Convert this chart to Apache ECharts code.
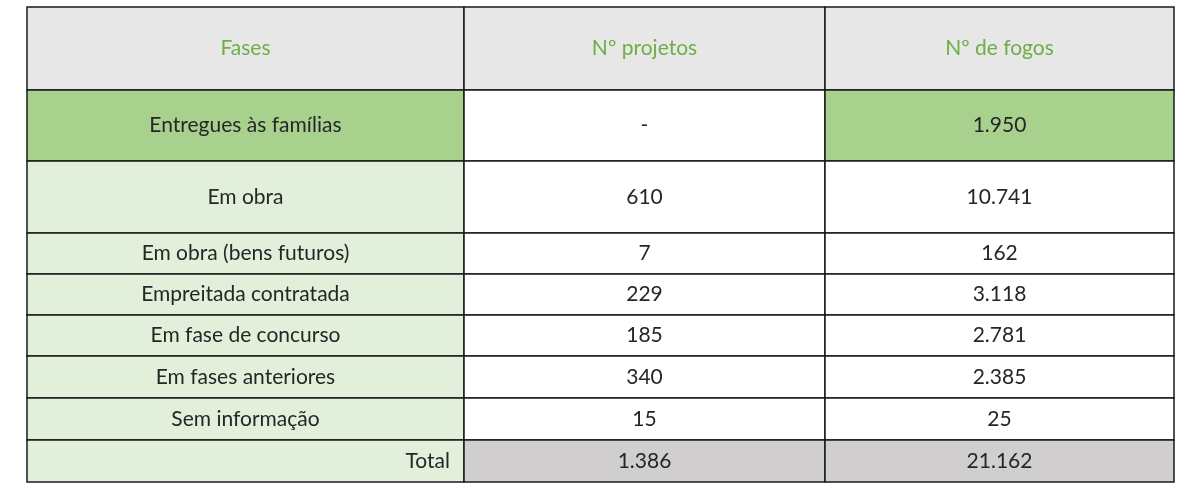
<!DOCTYPE html>
<html>
<head>
    <meta charset="utf-8" />
    <title>Fases</title>
    <script src="https://cdn.jsdelivr.net/npm/echarts@6/dist/echarts.min.js"></script>
    <style>
        html, body { margin: 0; background: #fff; }
        #chart { width: 1200px; height: 495px; }
    </style>
</head>
<body>
    <div id="chart"></div>
    <script>
        // dados da tabela
        var headers = ['Fases', 'Nº projetos', 'Nº de fogos'];
        var fases = ['Entregues às famílias', 'Em obra', 'Em obra (bens futuros)', 'Empreitada contratada',
            'Em fase de concurso', 'Em fases anteriores', 'Sem informação', 'Total'];
        var projetos = ['-', '610', '7', '229', '185', '340', '15', '1.386'];
        var fogos = ['1.950', '10.741', '162', '3.118', '2.781', '2.385', '25', '21.162'];

        // limites das colunas e linhas (unidades dos eixos)
        var colEdges = [0, 437, 798, 1147];
        var rowEdges = [0, 83, 154, 226, 267, 308, 349, 391, 433, 475];

        function cellFill(c, r) {
            if (r === 0) return '#e7e7e7';
            if (r === 1) return c === 1 ? '#ffffff' : '#a9d18e';
            if (r === rowEdges.length - 2 && c > 0) return '#d0cece';
            return c === 0 ? '#e2efda' : '#ffffff';
        }

        var cells = [];
        var rows = [headers];
        for (var i = 0; i < fases.length; i++) rows.push([fases[i], projetos[i], fogos[i]]);
        rows.forEach(function (row, r) {
            row.forEach(function (txt, c) { cells.push([c, r, txt]); });
        });

        var chart = echarts.init(document.getElementById('chart'));
        chart.setOption({
            animation: false,
            grid: { left: 27, right: 26, top: 7, bottom: 13 },
            xAxis: { type: 'value', min: 0, max: 1147, show: false },
            yAxis: { type: 'value', min: 0, max: 475, inverse: true, show: false },
            series: [{
                type: 'custom',
                data: cells,
                renderItem: function (params, api) {
                    var c = api.value(0), r = api.value(1);
                    var txt = cells[params.dataIndex][2];
                    var p0 = api.coord([colEdges[c], rowEdges[r]]);
                    var p1 = api.coord([colEdges[c + 1], rowEdges[r + 1]]);
                    var isTotal = r === rowEdges.length - 2 && c === 0;
                    return {
                        type: 'group',
                        children: [{
                            type: 'rect',
                            shape: { x: p0[0], y: p0[1], width: p1[0] - p0[0], height: p1[1] - p0[1] },
                            style: { fill: cellFill(c, r), stroke: '#1a1a1a', lineWidth: 1.5 }
                        }, {
                            type: 'text',
                            style: {
                                text: txt,
                                x: isTotal ? p1[0] - 14 : (p0[0] + p1[0]) / 2,
                                y: (p0[1] + p1[1]) / 2,
                                align: isTotal ? 'right' : 'center',
                                verticalAlign: 'middle',
                                fill: r === 0 ? '#70ad47' : '#262626',
                                font: '21px Lato, "Open Sans", sans-serif'
                            }
                        }]
                    };
                }
            }]
        });
    </script>
</body>
</html>
